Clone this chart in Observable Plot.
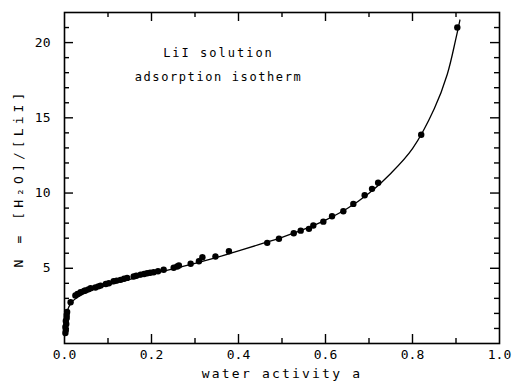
<!DOCTYPE html>
<html>
<head>
<meta charset="utf-8">
<script src="https://cdn.jsdelivr.net/npm/d3@7"></script>
<script src="https://cdn.jsdelivr.net/npm/@observablehq/plot@0.6"></script>
<style>
  html, body { margin: 0; padding: 0; background: #fff; }
  #chart svg { display: block; }
</style>
</head>
<body>
<div id="chart"></div>
<script>
// Measured points: water activity a and N = [H2O]/[LiI]
const waterActivity = [0.002, 0.003, 0.002, 0.004, 0.003, 0.005, 0.005, 0.006,
  0.014, 0.025, 0.030, 0.037, 0.045, 0.048, 0.055, 0.060, 0.071, 0.078, 0.083, 0.095,
  0.102, 0.113, 0.120, 0.129, 0.137, 0.144, 0.159, 0.165, 0.175, 0.183, 0.190, 0.197,
  0.205, 0.215, 0.228, 0.251, 0.259, 0.263, 0.290, 0.309, 0.317, 0.347, 0.378,
  0.466, 0.493, 0.527, 0.543, 0.562, 0.572, 0.595, 0.615, 0.641, 0.664, 0.690,
  0.707, 0.721, 0.820, 0.903];
const nValues = [0.7, 0.9, 1.1, 1.3, 1.5, 1.7, 1.9, 2.1,
  2.74, 3.19, 3.30, 3.41, 3.50, 3.52, 3.60, 3.67, 3.72, 3.80, 3.85, 3.95,
  4.00, 4.14, 4.18, 4.23, 4.30, 4.36, 4.45, 4.50, 4.58, 4.62, 4.67, 4.70,
  4.74, 4.80, 4.90, 5.03, 5.12, 5.18, 5.30, 5.47, 5.73, 5.78, 6.13,
  6.69, 6.96, 7.33, 7.50, 7.62, 7.84, 8.10, 8.46, 8.79, 9.28, 9.85,
  10.28, 10.68, 13.87, 21.0];

// Fitted isotherm curve
const curveA = [0.0005, 0.002, 0.004, 0.007, 0.012, 0.02, 0.03, 0.04, 0.06, 0.08, 0.10,
  0.15, 0.20, 0.25, 0.30, 0.35, 0.40, 0.45, 0.50, 0.55, 0.60, 0.65, 0.70, 0.75,
  0.80, 0.85, 0.88, 0.90, 0.909];
const curveN = [0.6, 1.2, 1.7, 2.2, 2.55, 2.85, 3.07, 3.25, 3.52, 3.73, 3.90,
  4.27, 4.62, 4.96, 5.32, 5.72, 6.15, 6.60, 7.06, 7.58, 8.2, 8.97, 9.98, 11.3,
  12.95, 15.6, 17.9, 20.3, 21.5];

// Axis ticks and labels
const xMajor = [0.2, 0.4, 0.6, 0.8];
const xMinor = [0.1, 0.3, 0.5, 0.7, 0.9];
const xLabels = [0, 0.2, 0.4, 0.6, 0.8, 1.0];
const yMajor = [5, 10, 15, 20];
const yMinor = [1, 2, 3, 4, 6, 7, 8, 9, 11, 12, 13, 14, 16, 17, 18, 19, 21];
const yLabels = [5, 10, 15, 20];

const xTitle = "water activity a";
const yTitle = "N = [H\u2082O]/[LiI]";
const noteLines = ["LiI solution", "adsorption isotherm"];

const points = waterActivity.map((a, i) => ({a, n: nValues[i]}));
const curve = curveA.map((a, i) => ({a, n: curveN[i]}));

const W = 513, H = 384;
const mL = 64, mR = 14, mT = 12, mB = 41;
const pw = W - mL - mR, ph = H - mT - mB;
const majorLen = 9, minorLen = 5;
const font = "'DejaVu Sans Mono', monospace";

const chart = Plot.plot({
  width: W, height: H,
  marginLeft: mL, marginRight: mR, marginTop: mT, marginBottom: mB,
  style: {fontFamily: font, fontSize: "13px", color: "black", background: "white"},
  x: {domain: [0, 1]},
  y: {domain: [0, 22]},
  marks: [
    Plot.frame({stroke: "black", strokeWidth: 1.6}),
    // bottom / top ticks
    Plot.tickX(xMajor, {x: d => d, insetTop: ph - majorLen, strokeWidth: 1.4}),
    Plot.tickX(xMajor, {x: d => d, insetBottom: ph - majorLen, strokeWidth: 1.4}),
    Plot.tickX(xMinor, {x: d => d, insetTop: ph - minorLen, strokeWidth: 1.4}),
    Plot.tickX(xMinor, {x: d => d, insetBottom: ph - minorLen, strokeWidth: 1.4}),
    // left / right ticks
    Plot.tickY(yMajor, {y: d => d, insetRight: pw - majorLen, strokeWidth: 1.4}),
    Plot.tickY(yMajor, {y: d => d, insetLeft: pw - majorLen, strokeWidth: 1.4}),
    Plot.tickY(yMinor, {y: d => d, insetRight: pw - minorLen, strokeWidth: 1.4}),
    Plot.tickY(yMinor, {y: d => d, insetLeft: pw - minorLen, strokeWidth: 1.4}),
    Plot.axisX({ticks: xLabels, tickSize: 0, tickPadding: 6, tickFormat: d3.format(".1f"), label: null, fontSize: 13}),
    Plot.axisY({ticks: yLabels, tickSize: 0, tickPadding: 14, label: null, fontSize: 13}),
    Plot.line(curve, {x: "a", y: "n", curve: "catmull-rom", stroke: "black", strokeWidth: 1.3}),
    Plot.dot(points, {x: "a", y: "n", r: 3.2, fill: "black", stroke: "none"}),
    Plot.text([xTitle], {frameAnchor: "bottom", dy: 34, fontSize: 13, fill: "black"}),
    Plot.text([yTitle], {frameAnchor: "left", textAnchor: "middle", dx: -46, rotate: -90, fontSize: 13, fill: "black"}),
    Plot.text([noteLines[0]], {x: 0.354, y: 19.27, fontSize: 12, fill: "black"}),
    Plot.text([noteLines[1]], {x: 0.354, y: 17.68, fontSize: 12, fill: "black"})
  ]
});

document.getElementById("chart").appendChild(chart);

const spacing = new Map([[xTitle, "2.2px"], [yTitle, "4.1px"], [noteLines[0], "2px"], [noteLines[1], "1.6px"]]);
d3.select(chart).selectAll("text").each(function() {
  const s = spacing.get(this.textContent);
  if (s) this.setAttribute("letter-spacing", s);
});
</script>
</body>
</html>
